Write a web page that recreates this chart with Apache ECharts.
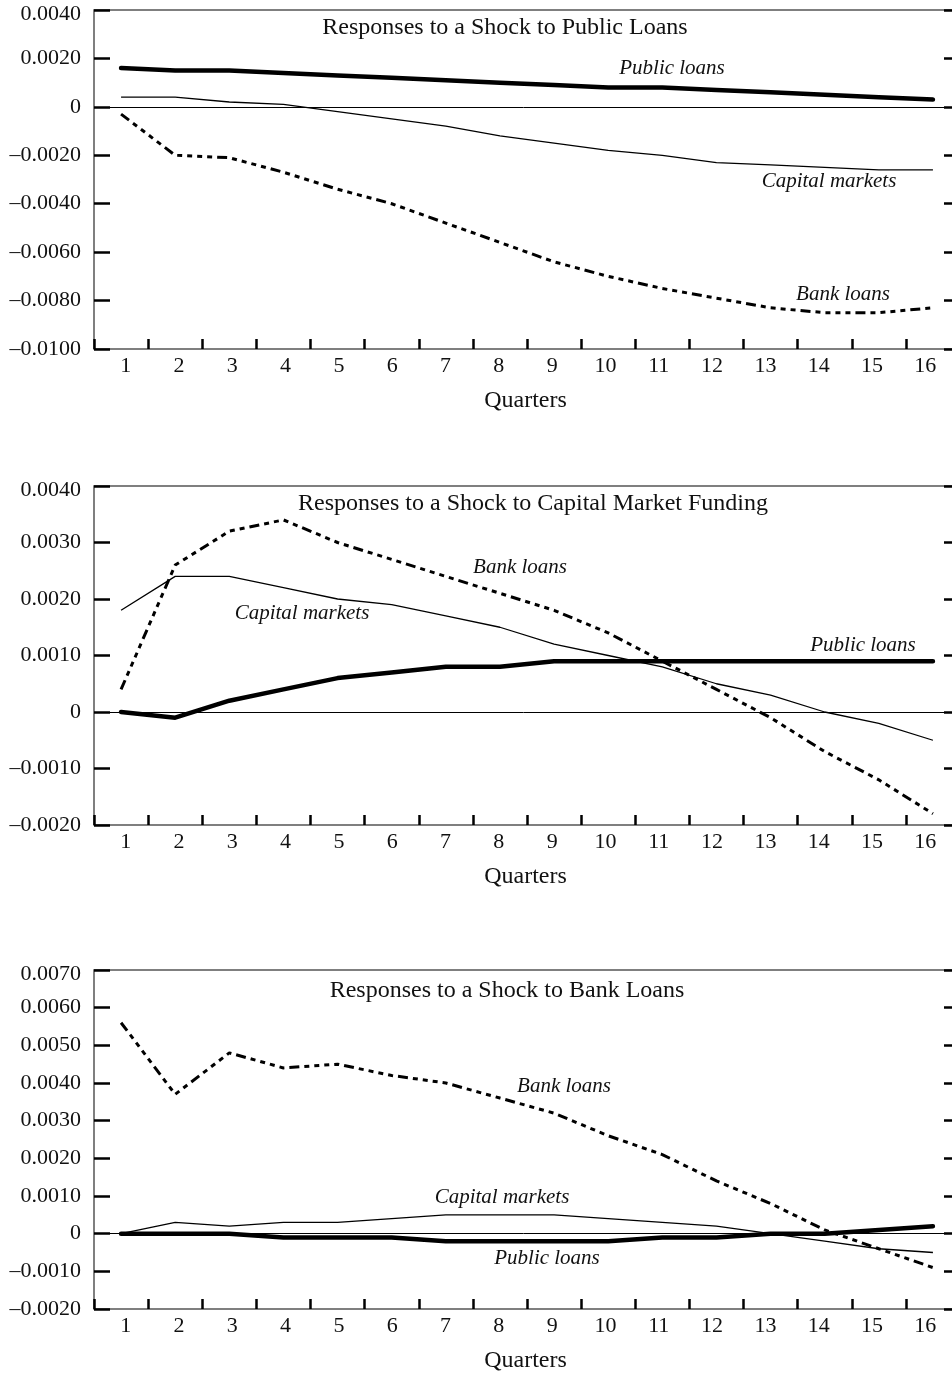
<!DOCTYPE html>
<html>
<head>
<meta charset="utf-8">
<script src="https://cdn.jsdelivr.net/npm/echarts@6/dist/echarts.min.js"></script>
<style>
  html, body { margin: 0; padding: 0; background: #fff; }
  #chart { width: 952px; height: 1375px; }
</style>
</head>
<body>
<div id="chart"></div>
<script>
// Quarters after the shock
const quarters = ['1','2','3','4','5','6','7','8','9','10','11','12','13','14','15','16'];

// Shock to public loans
const plPublic  = [0.0016, 0.0015, 0.0015, 0.0014, 0.0013, 0.0012, 0.0011, 0.0010, 0.0009, 0.0008, 0.0008, 0.0007, 0.0006, 0.0005, 0.0004, 0.0003];
const plCapital = [0.0004, 0.0004, 0.0002, 0.0001, -0.0002, -0.0005, -0.0008, -0.0012, -0.0015, -0.0018, -0.0020, -0.0023, -0.0024, -0.0025, -0.0026, -0.0026];
const plBank    = [-0.0003, -0.0020, -0.0021, -0.0027, -0.0034, -0.0040, -0.0048, -0.0056, -0.0064, -0.0070, -0.0075, -0.0079, -0.0083, -0.0085, -0.0085, -0.0083];

// Shock to capital market funding
const cmPublic  = [0.0000, -0.0001, 0.0002, 0.0004, 0.0006, 0.0007, 0.0008, 0.0008, 0.0009, 0.0009, 0.0009, 0.0009, 0.0009, 0.0009, 0.0009, 0.0009];
const cmCapital = [0.0018, 0.0024, 0.0024, 0.0022, 0.0020, 0.0019, 0.0017, 0.0015, 0.0012, 0.0010, 0.0008, 0.0005, 0.0003, 0.0000, -0.0002, -0.0005];
const cmBank    = [0.0004, 0.0026, 0.0032, 0.0034, 0.0030, 0.0027, 0.0024, 0.0021, 0.0018, 0.0014, 0.0009, 0.0004, -0.0001, -0.0007, -0.0012, -0.0018];

// Shock to bank loans
const blPublic  = [0.0000, 0.0000, 0.0000, -0.0001, -0.0001, -0.0001, -0.0002, -0.0002, -0.0002, -0.0002, -0.0001, -0.0001, 0.0000, 0.0000, 0.0001, 0.0002];
const blCapital = [0.0000, 0.0003, 0.0002, 0.0003, 0.0003, 0.0004, 0.0005, 0.0005, 0.0005, 0.0004, 0.0003, 0.0002, 0.0000, -0.0002, -0.0004, -0.0005];
const blBank    = [0.0056, 0.0037, 0.0048, 0.0044, 0.0045, 0.0042, 0.0040, 0.0036, 0.0032, 0.0026, 0.0021, 0.0014, 0.0008, 0.0001, -0.0004, -0.0009];

// Panel titles and value-axis ranges
const panelTitles = [
  'Responses to a Shock to Public Loans',
  'Responses to a Shock to Capital Market Funding',
  'Responses to a Shock to Bank Loans'
];
const yRanges = [
  { min: -0.0100, max: 0.0040, interval: 0.0020 },
  { min: -0.0020, max: 0.0040, interval: 0.0010 },
  { min: -0.0020, max: 0.0070, interval: 0.0010 }
];
const seriesNames = ['Capital markets', 'Bank loans', 'Public loans'];
const panelData = [
  [plCapital, plBank, plPublic],
  [cmCapital, cmBank, cmPublic],
  [blCapital, blBank, blPublic]
];

const SERIF = '"Liberation Serif", "Times New Roman", Times, serif';
const INK = '#111';
const FRAME = '#555';

const gridTops = [10, 486, 970];
const GRID_LEFT = 94, GRID_W = 866, GRID_H = 339;
// the quarter numbers sit on a slightly tighter scale than the plotted points
const LABEL_LEFT = 99, LABEL_W = 853;

function yLabel(max) {
  return function (v) {
    const a = Math.abs(v);
    let s;
    if (a < 1e-12) s = '0';
    else s = (v < 0 ? '\u2013' : '') + a.toFixed(4);
    if (Math.abs(v - max) < 1e-12) return '{top|' + s + '}';
    return s;
  };
}

const grids = [], xAxes = [], yAxes = [], series = [];
const labelGrids = [], labelX = [], labelY = [];

gridTops.forEach(function (top, p) {
  grids.push({
    left: GRID_LEFT, top: top, width: GRID_W, height: GRID_H,
    outerBoundsMode: 'none', containLabel: false,
    show: true, borderColor: FRAME, borderWidth: 1.5, backgroundColor: 'transparent'
  });
  labelGrids.push({
    left: LABEL_LEFT, top: top, width: LABEL_W, height: GRID_H,
    outerBoundsMode: 'none', containLabel: false, show: false
  });
  xAxes.push({
    type: 'category', gridIndex: p, data: quarters, boundaryGap: true,
    axisLine: { show: false, onZero: false },
    axisTick: { show: true, inside: true, length: 10, lineStyle: { color: '#000', width: 2.5 } },
    axisLabel: { show: false },
    splitLine: { show: false }
  });
  labelX.push({
    type: 'category', gridIndex: 3 + p, data: quarters, boundaryGap: true,
    axisLine: { show: false, onZero: false },
    axisTick: { show: false },
    axisLabel: { interval: 0, margin: 6, fontFamily: SERIF, fontSize: 22, color: INK },
    splitLine: { show: false },
    name: 'Quarters', nameLocation: 'middle', nameGap: 40,
    nameTextStyle: { fontFamily: SERIF, fontSize: 24, color: INK }
  });
  labelY.push({ type: 'value', gridIndex: 3 + p, show: false });

  const r = yRanges[p];
  yAxes.push({
    type: 'value', gridIndex: p, position: 'left',
    min: r.min, max: r.max, interval: r.interval,
    axisLine: { show: false, onZero: false },
    axisTick: { show: true, inside: true, length: 16, lineStyle: { color: '#000', width: 2.5 } },
    axisLabel: {
      margin: 13, fontFamily: SERIF, fontSize: 22, color: INK,
      formatter: yLabel(r.max),
      rich: { top: { padding: [8, 0, 0, 0], fontFamily: SERIF, fontSize: 22, color: INK } }
    },
    splitLine: { show: false }
  });
  yAxes.push({
    type: 'value', gridIndex: p, position: 'right',
    min: r.min, max: r.max, interval: r.interval,
    axisLine: { show: false, onZero: false },
    axisTick: { show: true, inside: true, length: 16, lineStyle: { color: '#000', width: 2.5 } },
    axisLabel: { show: false },
    splitLine: { show: false }
  });

  const data = panelData[p];
  const yIdx = p * 2;
  // thin solid: capital markets
  series.push({
    name: seriesNames[0], type: 'line', xAxisIndex: p, yAxisIndex: yIdx,
    data: data[0], symbol: 'none', smooth: false,
    lineStyle: { color: '#000', width: 1.3 },
    markLine: {
      silent: true, symbol: ['none', 'none'], label: { show: false },
      lineStyle: { color: '#000', width: 1, type: 'solid' },
      data: [{ yAxis: 0 }]
    },
    z: 3
  });
  // long dash followed by four short dashes: bank loans
  series.push({
    name: seriesNames[1], type: 'line', xAxisIndex: p, yAxisIndex: yIdx,
    data: data[1], symbol: 'none',
    lineStyle: { color: '#000', width: 3, type: [10, 5, 5, 5, 5, 5, 5, 5, 5, 5] },
    z: 4
  });
  // thick solid: public loans
  series.push({
    name: seriesNames[2], type: 'line', xAxisIndex: p, yAxisIndex: yIdx,
    data: data[2], symbol: 'none',
    lineStyle: { color: '#000', width: 4.5, cap: 'round', join: 'round' },
    z: 5
  });
});

// Titles and inline series labels inside each panel
function txt(text, x, y, size, italic) {
  return {
    type: 'text', x: x, y: y, z: 10, silent: true,
    style: {
      text: text, fill: INK, align: 'center', verticalAlign: 'middle',
      font: (italic ? 'italic ' : '') + size + 'px ' + SERIF
    }
  };
}
const graphics = [
  txt(panelTitles[0], 505, 28, 24, false),
  txt('Public loans', 672, 68, 21, true),
  txt('Capital markets', 829, 181, 21, true),
  txt('Bank loans', 843, 294, 21, true),

  txt(panelTitles[1], 533, 504, 24, false),
  txt('Bank loans', 520, 567, 21, true),
  txt('Capital markets', 302, 613, 21, true),
  txt('Public loans', 863, 645, 21, true),

  txt(panelTitles[2], 507, 991, 24, false),
  txt('Bank loans', 564, 1086, 21, true),
  txt('Capital markets', 502, 1197, 21, true),
  txt('Public loans', 547, 1258, 21, true)
];

const chart = echarts.init(document.getElementById('chart'), null, { renderer: 'canvas' });
chart.setOption({
  animation: false,
  backgroundColor: '#fff',
  grid: grids.concat(labelGrids),
  xAxis: xAxes.concat(labelX),
  yAxis: yAxes.concat(labelY),
  series: series,
  graphic: graphics
});
</script>
</body>
</html>
